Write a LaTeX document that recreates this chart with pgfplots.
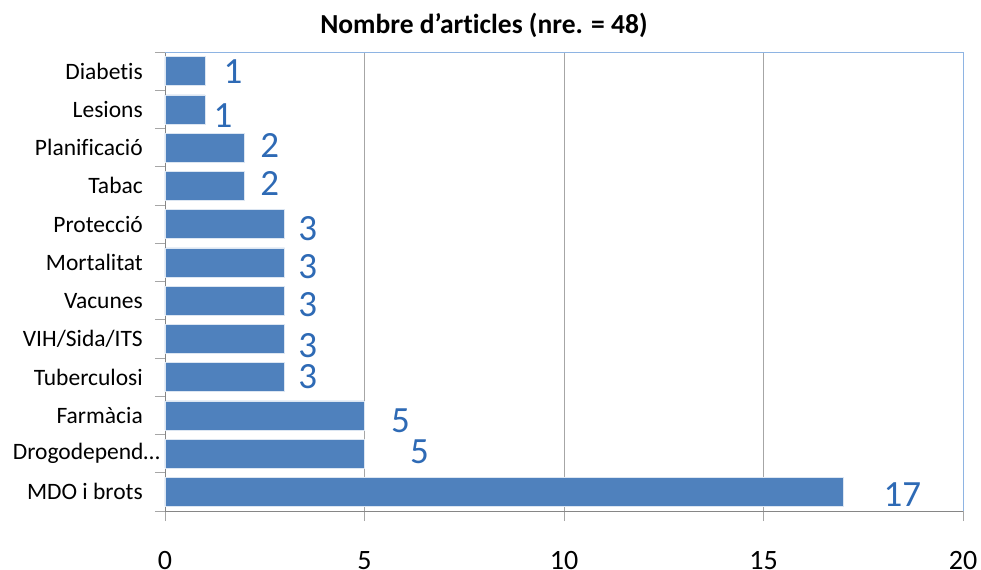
\documentclass[border=0pt]{standalone}
\usepackage{pgfplots}
\pgfplotsset{compat=1.18}
\usepackage{pgfplotstable}
\usepackage{fontspec}
\setmainfont{Carlito}[Ligatures={NoCommon}]
\definecolor{barblue}{HTML}{4F81BD}
\definecolor{lblblue}{HTML}{2E6AB5}
\definecolor{frameblue}{HTML}{8EB4E3}
\definecolor{gridgray}{HTML}{A6A6A6}
\definecolor{axisgray}{HTML}{868686}

% y = category index (0 = MDO i brots), dx/dy = label offsets in bp
\pgfplotstableread{
x  y  dx  dy
17 0  59  -3
5  1  55  2
5  2  36  -5
3  3  23  1
3  4  23  -7
3  5  23  -4
3  6  23  -4
3  7  23  -4
2  8  25  2
2  9  25  2
1  10 18  -6
1  11 28  0
}\datatab

\begin{document}
\begin{tikzpicture}
\begin{axis}[
  at={(0,0)}, anchor=south west,
  scale only axis,
  width=798bp, height=459bp,
  xmin=0, xmax=20, ymin=-0.5, ymax=11.5,
  axis lines=left,
  axis line style={axisgray, line width=0.8bp, -},
  xtick={0,5,10,15,20},
  ytick={0,...,11},
  yticklabels={MDO i brots,{Drogodepend…\kern-17bp},Farmàcia,Tuberculosi,VIH/Sida/ITS,Vacunes,Mortalitat,Protecció,Tabac,Planificació,Lesions,Diabetis},
  minor ytick={-0.5,0.5,...,11.5},
  major tick length=10bp,
  minor tick length=10bp,
  tick align=outside,
  ytick style={draw=none},
  minor y tick style={draw=gridgray, line width=0.8bp},
  xtick style={draw=gridgray, line width=0.8bp},
  xmajorgrids,
  major grid style={gridgray, line width=0.8bp},
  yticklabel style={font=\fontsize{23.5bp}{28bp}\selectfont, anchor=east, inner sep=0pt, xshift=-12bp},
  xticklabel style={font=\fontsize{28bp}{32bp}\selectfont, anchor=north, inner sep=0pt, yshift=-30bp},
  /pgf/number format/assume math mode=true,
  title={Nombre d’articles (nre. = 48)},
  title style={font=\bfseries\fontsize{27.5bp}{32bp}\selectfont, anchor=base, inner sep=0pt, at={(axis description cs:0.3997,1.0283)}},
  xbar, bar width=29bp,
  clip=false,
]
\addplot[fill=barblue, draw=white!80!barblue, line width=0.6bp,
  visualization depends on={\thisrow{dx} \as \dx},
  visualization depends on={\thisrow{dy} \as \dy},
  nodes near coords,
  nodes near coords align={center},
  every node near coord/.append style={font=\fontsize{37bp}{40bp}\selectfont, text=lblblue, inner sep=0pt, anchor=center, xshift=\dx bp, yshift=\dy bp},
] table[x=x, y=y] {\datatab};
\draw[frameblue, line width=0.8bp] (rel axis cs:0,1) -- (rel axis cs:1,1) -- (rel axis cs:1,0);
\end{axis}
\pgfresetboundingbox
\path[use as bounding box] (-165bp,-59bp) rectangle (816bp,511bp);
\end{tikzpicture}
\end{document}
